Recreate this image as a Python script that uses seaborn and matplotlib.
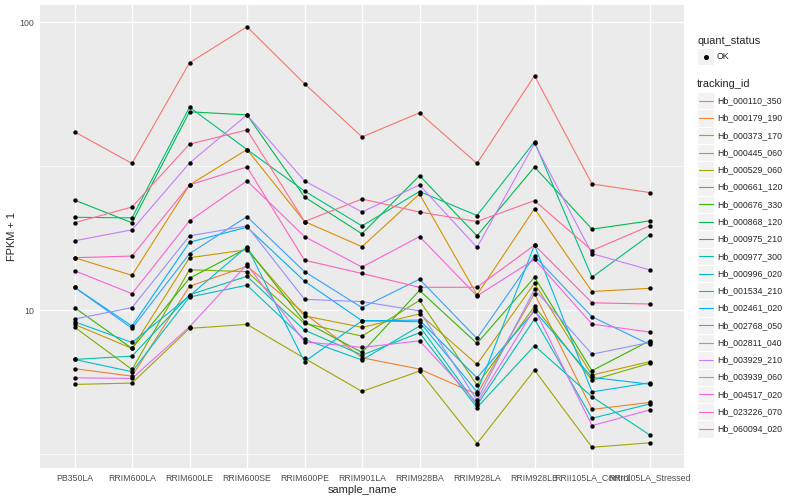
import matplotlib
matplotlib.use("Agg")
import matplotlib.pyplot as plt
import matplotlib.patches as mpatches
import matplotlib.lines as mlines
import pandas as pd
import seaborn as sns

# sample order on the x axis
samples = ["PB350LA", "RRIM600LA", "RRIM600LE", "RRIM600SE", "RRIM600PE",
           "RRIM901LA", "RRIM928BA", "RRIM928LA", "RRIM928LB",
           "RRII105LA_Control", "RRII105LA_Stressed"]

# FPKM + 1 per gene, one value per sample
hb_000110_350 = [41.6, 32.3, 72.2, 96.3, 61.1, 39.9, 48.4, 32.3, 65.1, 27.4, 25.6]
hb_000179_190 = [6.26, 5.90, 12.1, 14.2, 9.74, 6.83, 6.24, 5.10, 11.4, 4.52, 4.78]
hb_000373_170 = [15.2, 13.2, 27.2, 36.1, 20.3, 16.6, 25.3, 11.3, 22.5, 11.6, 11.9]
hb_000445_060 = [8.92, 7.36, 15.2, 16.2, 9.55, 8.71, 9.69, 6.48, 12.4, 5.95, 6.62]
hb_000529_060 = [5.52, 5.58, 8.64, 8.92, 6.80, 5.22, 6.14, 3.44, 6.19, 3.34, 3.46]
hb_000661_120 = [8.73, 6.22, 13.8, 13.6, 8.99, 8.12, 10.8, 5.49, 10.3, 5.71, 6.53]
hb_000676_330 = [10.2, 7.36, 12.9, 16.4, 9.11, 7.13, 11.7, 7.66, 13.0, 6.16, 7.82]
hb_000868_120 = [24.1, 20.1, 48.8, 47.6, 24.7, 18.4, 29.3, 18.1, 31.4, 19.1, 20.4]
hb_000975_210 = [21.0, 20.9, 50.6, 36.1, 25.9, 19.6, 25.8, 21.3, 38.4, 13.0, 18.2]
hb_000977_300 = [6.74, 6.92, 11.3, 13.1, 8.52, 6.98, 8.34, 4.59, 7.52, 5.00, 3.69]
hb_000996_020 = [6.74, 6.11, 11.1, 12.2, 7.91, 6.71, 8.80, 4.68, 9.31, 4.21, 4.72]
hb_001534_210 = [9.11, 7.72, 11.2, 16.6, 6.62, 9.18, 9.11, 5.20, 16.8, 5.20, 5.59]
hb_002461_020 = [12.0, 8.80, 17.2, 19.4, 12.6, 9.18, 9.23, 5.82, 9.94, 5.84, 5.53]
hb_002768_050 = [12.0, 8.64, 15.7, 21.1, 13.6, 10.2, 12.8, 7.97, 15.4, 9.48, 7.60]
hb_002811_040 = [9.31, 10.2, 18.1, 19.6, 10.9, 10.7, 9.94, 4.87, 11.8, 7.03, 7.72]
hb_003929_210 = [17.4, 19.0, 32.4, 47.6, 28.1, 21.9, 27.2, 16.5, 37.9, 15.7, 13.8]
hb_003939_060 = [5.82, 5.79, 8.75, 14.4, 7.76, 7.42, 7.82, 4.77, 10.1, 3.97, 4.50]
hb_004517_020 = [13.7, 11.4, 20.4, 28.1, 18.0, 14.1, 18.0, 11.2, 15.0, 8.94, 8.39]
hb_023226_070 = [15.2, 15.4, 27.2, 31.4, 14.9, 13.4, 12.0, 12.0, 16.8, 10.6, 10.5]
hb_060094_020 = [20.1, 22.8, 37.7, 42.2, 20.3, 24.3, 21.9, 20.3, 24.0, 16.1, 19.6]

tracking_ids = ["Hb_000110_350", "Hb_000179_190", "Hb_000373_170", "Hb_000445_060",
                "Hb_000529_060", "Hb_000661_120", "Hb_000676_330", "Hb_000868_120",
                "Hb_000975_210", "Hb_000977_300", "Hb_000996_020", "Hb_001534_210",
                "Hb_002461_020", "Hb_002768_050", "Hb_002811_040", "Hb_003929_210",
                "Hb_003939_060", "Hb_004517_020", "Hb_023226_070", "Hb_060094_020"]
series = [hb_000110_350, hb_000179_190, hb_000373_170, hb_000445_060, hb_000529_060,
          hb_000661_120, hb_000676_330, hb_000868_120, hb_000975_210, hb_000977_300,
          hb_000996_020, hb_001534_210, hb_002461_020, hb_002768_050, hb_002811_040,
          hb_003929_210, hb_003939_060, hb_004517_020, hb_023226_070, hb_060094_020]

# ggplot default hue palette for 20 levels
colors = ["#F8766D", "#EA8331", "#D89000", "#C09B00", "#A3A500", "#7CAE00", "#39B600",
          "#00BB4E", "#00BF7D", "#00C1A3", "#00BFC4", "#00BAE0", "#00B0F6", "#35A2FF",
          "#9590FF", "#C77CFF", "#E76BF3", "#FA62DB", "#FF62BC", "#FF6C91"]

rows = []
for tid, vals in zip(tracking_ids, series):
    for s, v in zip(samples, vals):
        rows.append({"tracking_id": tid, "sample_name": s, "fpkm": v, "quant_status": "OK"})
df = pd.DataFrame(rows)

sns.set_style("white")
plt.rcParams["font.family"] = ["Liberation Sans", "DejaVu Sans"]

fig = plt.figure(figsize=(8, 5), dpi=100)
ax = fig.add_axes([40 / 800, 1 - 468 / 500, 644 / 800, 463 / 500])
ax.set_facecolor("#EBEBEB")

sns.lineplot(data=df, x="sample_name", y="fpkm", hue="tracking_id",
             palette=colors, hue_order=tracking_ids, sort=False,
             linewidth=0.8, legend=False, ax=ax, zorder=3)
sns.scatterplot(data=df, x="sample_name", y="fpkm", color="black", s=10,
                linewidth=0, legend=False, ax=ax, zorder=4)

ax.set_yscale("log")
ax.set_ylim(2.83, 114.6)
ax.set_xlim(-0.6, len(samples) - 0.4)
ax.set_yticks([10, 100])
ax.set_yticklabels(["10", "100"])
ax.set_yticks([10 ** 0.5, 10 ** 1.5], minor=True)
ax.yaxis.set_minor_formatter(plt.NullFormatter())
ax.grid(which="major", color="white", linewidth=1.0)
ax.grid(which="minor", axis="y", color="white", linewidth=0.5)
ax.set_axisbelow(True)
for sp in ax.spines.values():
    sp.set_visible(False)
ax.tick_params(axis="both", which="major", length=2, width=0.6, color="#333333",
               labelcolor="#4D4D4D", labelsize=6.3, pad=2)
ax.tick_params(axis="y", which="minor", length=0)
ax.set_xlabel("sample_name", fontsize=7.9, labelpad=1.5)
ax.set_ylabel("FPKM + 1", fontsize=7.9, labelpad=2)

# legend drawn by hand in pixel positions, ggplot style
def fx(px):
    return px / 800

def fy(py):
    return 1 - py / 500

key = 17.28
fig.text(fx(697), fy(40.7), "quant_status", fontsize=7.9, va="center", ha="left")
y0 = 56.7
fig.patches.append(mpatches.Rectangle((fx(697), fy(y0 + key / 2)), key / 800, key / 500,
                                      transform=fig.transFigure, facecolor="#F2F2F2",
                                      edgecolor="white", linewidth=0.8))
fig.lines.append(mlines.Line2D([fx(697 + key / 2)], [fy(y0)], marker="o", markersize=2.6,
                               color="black", linestyle="none", transform=fig.transFigure))
fig.text(fx(717), fy(y0), "OK", fontsize=6.3, va="center", ha="left")

fig.text(fx(697), fy(84), "tracking_id", fontsize=7.9, va="center", ha="left")
for i, (tid, c) in enumerate(zip(tracking_ids, colors)):
    yc = 100.7 + key * i
    fig.patches.append(mpatches.Rectangle((fx(697), fy(yc + key / 2)), key / 800, key / 500,
                                          transform=fig.transFigure, facecolor="#F2F2F2",
                                          edgecolor="white", linewidth=0.8))
    fig.lines.append(mlines.Line2D([fx(698.7), fx(712.6)], [fy(yc), fy(yc)], color=c,
                                   linewidth=0.8, transform=fig.transFigure))
    fig.text(fx(717), fy(yc), tid, fontsize=6.3, va="center", ha="left")

fig.savefig("out.png", dpi=100, facecolor="white")
